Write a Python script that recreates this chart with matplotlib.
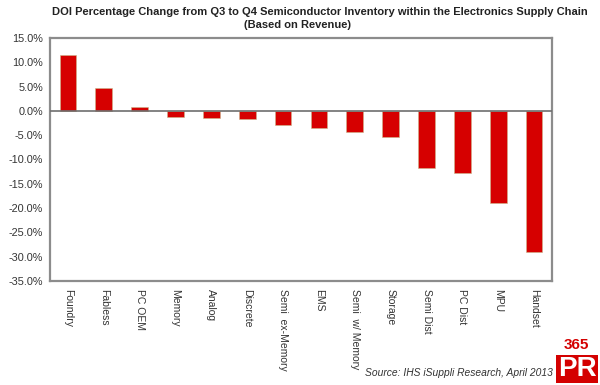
import matplotlib.pyplot as plt
from matplotlib.ticker import FuncFormatter

plt.rcParams['font.family'] = ['Liberation Sans', 'DejaVu Sans']

# Segments of the supply chain and DOI change (%) from Q3 to Q4
segments = ["Foundry", "Fabless", "PC OEM", "Memory", "Analog", "Discrete",
            "Semi  ex-Memory", "EMS", "Semi  w/ Memory", "Storage",
            "Semi Dist", "PC Dist", "MPU", "Handset"]
doi_change = [11.5, 4.7, 0.9, -1.2, -1.4, -1.6, -2.8, -3.5, -4.4, -5.4,
              -11.7, -12.7, -18.9, -29.0]
y_ticks = [15, 10, 5, 0, -5, -10, -15, -20, -25, -30, -35]

W, H = 600, 385
fig = plt.figure(figsize=(6, 3.85), dpi=100)
ax = fig.add_axes([50 / W, 1 - 281 / H, 502 / W, 243 / H])

x = range(len(segments))
ax.bar(x, doi_change, width=0.47, color='#d60000', edgecolor='#c9b88a',
       linewidth=0.4, zorder=2)
ax.axhline(0, color='#6e6e6e', linewidth=1.2, zorder=3)

ax.set_xlim(-0.5, len(segments) - 0.5)
ax.set_ylim(-35, 15)
ax.set_yticks(y_ticks)
ax.yaxis.set_major_formatter(FuncFormatter(lambda v, _: f"{v:.1f}%"))
ax.set_xticks(list(x))
ax.set_xticklabels(segments, rotation=270, fontsize=7.5, color='#333333')
ax.tick_params(axis='y', labelsize=7.8, labelcolor='#333333', length=0, pad=5)
ax.tick_params(axis='x', length=0, pad=6)

for s in ax.spines.values():
    s.set_color('#8c8c8c')
    s.set_linewidth(1.6)

# title, two lines
fig.text(320 / W, 1 - 12 / H, "DOI Percentage Change from Q3 to Q4 Semiconductor "
         "Inventory within the Electronics Supply Chain",
         ha='center', va='center', fontsize=8, fontweight='bold', color='#222222')
fig.text(297 / W, 1 - 25 / H, "(Based on Revenue)",
         ha='center', va='center', fontsize=8, fontweight='bold', color='#222222')

fig.text(553 / W, 1 - 373 / H, "Source: IHS iSuppli Research, April 2013",
         ha='right', va='center', fontsize=7.4, style='italic', color='#333333')

# corner logo
fig.text(576 / W, 1 - 345 / H, "365", ha='center', va='center', fontsize=11,
         fontweight='bold', color='#d40000')
fig.text(577 / W, 1 - 369 / H, "PR", ha='center', va='center', fontsize=20,
         fontweight='bold', color='white',
         bbox=dict(boxstyle='square,pad=0.05', fc='#d40000', ec='none'))

fig.savefig("out.png", dpi=100)
